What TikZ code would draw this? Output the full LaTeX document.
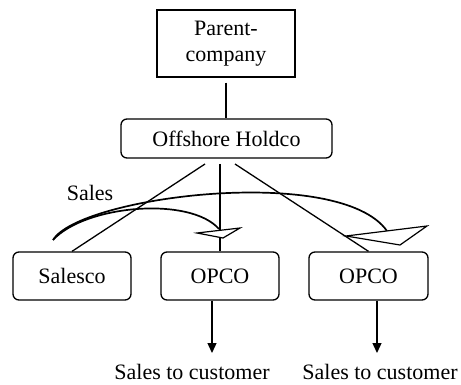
\documentclass[tikz,border=0pt]{standalone}
\usepackage{fontspec}
\setmainfont{Liberation Serif}
\usetikzlibrary{arrows.meta}
\begin{document}
\begin{tikzpicture}[x=0.5pt,y=-0.5pt,
  every node/.style={font=\fontsize{11}{13}\selectfont, inner sep=0pt},
  sqbox/.style={draw, line width=0.65pt, minimum width=69pt, minimum height=33.5pt, align=center},
  rbox/.style={draw, line width=0.65pt, rounded corners=3pt},
  conn/.style={line width=0.65pt},
  flow/.style={line width=0.65pt, -{Triangle[width=4.5pt,length=5pt]}},
  swoosh/.style={line width=0.85pt},
  head/.style={draw, fill=white, line width=0.6pt, line join=miter}]
\useasboundingbox (0,0) rectangle (461,385);
\node[sqbox] (parent) at (226,43.5) {Parent-\\company};
\node[rbox, minimum width=105.5pt, minimum height=19.5pt] (hold) at (226.5,138.5) {Offshore Holdco};
\node[rbox, minimum width=59pt, minimum height=24pt] (salesco) at (72,276) {Salesco};
\node[rbox, minimum width=59pt, minimum height=24pt] (opco1) at (220,276) {OPCO};
\node[rbox, minimum width=59.5pt, minimum height=24pt] (opco2) at (368.5,276) {OPCO};
\node (cust1) at (192,372) {Sales to customer};
\node (cust2) at (380,372) {Sales to customer};
\node (saleslbl) at (90,193) {Sales};
% connectors
\draw[conn, shorten <=2.5pt] (parent.south) -- (parent.south |- hold.north);
\coordinate (h1) at (205,164);
\coordinate (h2) at (220,164);
\coordinate (h3) at (235,164);
\draw[conn] (h1) -- (salesco.north);
\draw[conn] (h2) -- (opco1.north);
\draw[conn] (h3) -- (opco2.north);
\coordinate (e1) at (212,353);
\coordinate (e2) at (377,353);
\draw[flow] ([xshift=-4pt]opco1.south) -- (e1);
\draw[flow] ([xshift=4.25pt]opco2.south) -- (e2);
% curved sales arrows
\coordinate (s) at (53,240);
\draw[swoosh] (s) .. controls (85,205) and (190,196) .. (219,229);
\draw[swoosh] (s) .. controls (80,196) and (340,164) .. (387,231);
\path[head] (197,233) -- (240,228) -- (223,238) -- cycle;
\path[head] (346,236) -- (427,226) -- (400,245) -- cycle;
\end{tikzpicture}
\end{document}
